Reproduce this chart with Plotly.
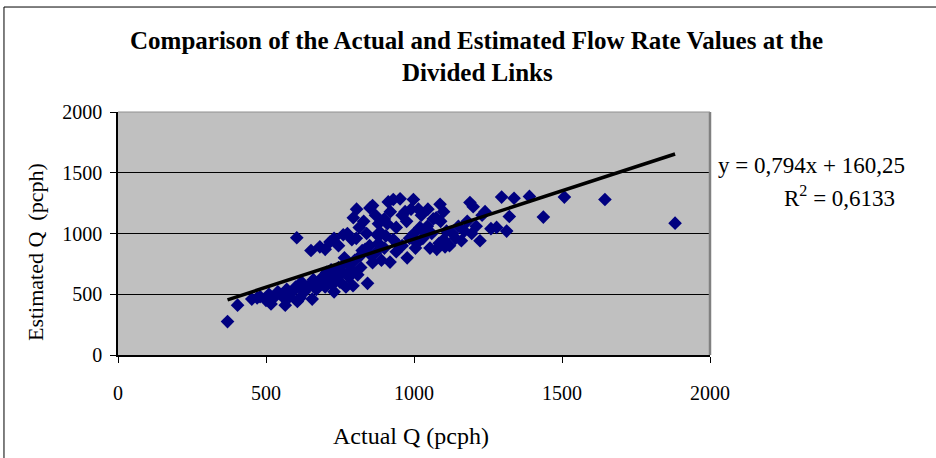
import plotly.graph_objects as go

# Actual Q (pcph)
actual_q = [
    370, 404, 452, 470, 480, 500, 510, 517, 530, 540, 555, 565, 570, 580, 590,
    600, 604, 606, 615, 620, 630, 640, 650, 652, 656, 660, 670, 680, 682, 690,
    700, 700, 705, 710, 716, 720, 725, 730, 730, 740, 745, 745, 750, 760, 761,
    770, 775, 775, 780, 790, 790, 794, 795, 800, 806, 810, 815, 820, 820, 830,
    835, 840, 843, 850, 851, 855, 860, 860, 870, 870, 880, 880, 890, 890, 900,
    900, 905, 913, 919, 920, 930, 930, 940, 940, 953, 960, 960, 975, 977, 985,
    990, 998, 1000, 1005, 1010, 1020, 1025, 1030, 1040, 1047, 1054, 1060, 1065,
    1077, 1085, 1088, 1090, 1100, 1100, 1110, 1120, 1130, 1140, 1150, 1160, 1170,
    1180, 1189, 1195, 1200, 1210, 1223, 1230, 1240, 1260, 1279, 1296, 1313, 1322,
    1338, 1390, 1437, 1508, 1645, 1882,
    560, 625, 685, 735, 765, 805, 825, 875, 910, 945, 970, 1015, 1045, 1075, 1105,
]

# Estimated Q (pcph)
estimated_q = [
    275, 410, 460, 470, 480, 450, 500, 420, 480, 520, 500, 410, 540, 480, 520,
    560, 965, 440, 470, 600, 520, 560, 580, 860, 460, 620, 540, 600, 890, 640,
    560, 870, 680, 620, 930, 700, 580, 520, 960, 650, 720, 900, 600, 680, 990,
    560, 750, 1000, 640, 700, 950, 570, 1130, 780, 1200, 660, 1050, 720, 820, 1100,
    870, 1000, 590, 900, 1210, 820, 760, 1230, 840, 1150, 920, 1080, 780, 1000, 880,
    1120, 980, 1260, 765, 1180, 950, 1280, 850, 1050, 1285, 900, 1150, 1100, 800, 960,
    1200, 1280, 1000, 880, 920, 1050, 1150, 960, 1000, 1200, 880, 1000, 1120,
    870, 920, 1240, 1100, 950, 1180, 1020, 900, 1000, 960, 1060, 940, 1020,
    1100, 1255, 1000, 1220, 1060, 940, 1150, 1180, 1040, 1050, 1300, 1020, 1140,
    1290, 1305, 1135, 1300, 1280, 1085,
    470, 530, 580, 620, 800, 960, 860, 990, 1080, 910, 1180, 1200, 1060, 1130, 890,
]

# Axis tick values
tick_values = [0, 500, 1000, 1500, 2000]

# Trendline coefficients as printed on the chart
slope = 0.794
intercept = 160.25

x_min, x_max = min(actual_q), max(actual_q)
trend_x = [x_min, x_max]
trend_y = [slope * v + intercept for v in trend_x]

fig = go.Figure()
fig.add_trace(go.Scatter(
    x=actual_q, y=estimated_q, mode="markers",
    marker=dict(symbol="diamond", size=10.5, color="#000080",
                line=dict(width=0)),
    showlegend=False, hoverinfo="x+y",
))
fig.add_trace(go.Scatter(
    x=trend_x, y=trend_y, mode="lines",
    line=dict(color="black", width=3.5),
    showlegend=False, hoverinfo="skip",
))

serif = "Liberation Serif, Times New Roman, serif"

fig.update_layout(
    width=936, height=458,
    margin=dict(l=118, r=226, t=112, b=103),
    paper_bgcolor="white",
    plot_bgcolor="#c0c0c0",
    font=dict(family=serif, size=18, color="black"),
    xaxis=dict(
        range=[0, 2000], tickvals=tick_values,
        showgrid=False, zeroline=False,
        showline=True, linecolor="black", linewidth=1.5,
        ticks="outside", ticklen=6, tickcolor="black", tickwidth=1,
        ticklabelstandoff=13,
        tickfont=dict(family=serif, size=20),
    ),
    yaxis=dict(
        range=[0, 2000], tickvals=tick_values,
        showgrid=True, gridcolor="black", gridwidth=1,
        zeroline=False,
        showline=True, linecolor="black", linewidth=1.5,
        ticks="outside", ticklen=6, tickcolor="black", tickwidth=1,
        ticklabelstandoff=4,
        tickfont=dict(family=serif, size=20),
    ),
    shapes=[
        # plot area gray border (right / top)
        dict(type="line", xref="paper", yref="paper", x0=1, x1=1, y0=0, y1=1,
             line=dict(color="#808080", width=2.5)),
        dict(type="line", xref="paper", yref="paper", x0=0, x1=1, y0=1, y1=1,
             line=dict(color="#909090", width=1)),
        # outer chart frame (top and left edges)
        dict(type="line", xref="paper", yref="paper",
             x0=-0.1926, x1=1.40, y0=1.432, y1=1.432,
             line=dict(color="black", width=1)),
        dict(type="line", xref="paper", yref="paper",
             x0=-0.1926, x1=-0.1926, y0=-0.45, y1=1.432,
             line=dict(color="black", width=1)),
    ],
    annotations=[
        dict(text="<b>Comparison of the Actual and Estimated Flow Rate Values at the</b>",
             xref="paper", yref="paper", x=(476 - 118) / 592, y=(355 - 40) / 243,
             xanchor="center", yanchor="middle", showarrow=False,
             font=dict(family=serif, size=25)),
        dict(text="<b>Divided Links</b>",
             xref="paper", yref="paper", x=(477 - 118) / 592, y=(355 - 73) / 243,
             xanchor="center", yanchor="middle", showarrow=False,
             font=dict(family=serif, size=25)),
        dict(text="Estimated Q  (pcph)", textangle=-90,
             xref="paper", yref="paper", x=(35 - 118) / 592, y=(355 - 252) / 243,
             xanchor="center", yanchor="middle", showarrow=False,
             font=dict(family=serif, size=22)),
        dict(text="Actual Q (pcph)",
             xref="paper", yref="paper", x=(411 - 118) / 592, y=(355 - 436) / 243,
             xanchor="center", yanchor="middle", showarrow=False,
             font=dict(family=serif, size=24)),
        dict(text="y = 0,794x + 160,25",
             xref="paper", yref="paper", x=(716 - 118) / 592, y=(355 - 165) / 243,
             xanchor="left", yanchor="middle", showarrow=False,
             font=dict(family=serif, size=23)),
        dict(text="R<sup>2</sup> = 0,6133",
             xref="paper", yref="paper", x=(839 - 118) / 592, y=(355 - 196) / 243,
             xanchor="center", yanchor="middle", showarrow=False,
             font=dict(family=serif, size=23)),
    ],
)

fig.write_html("out.html", config={"displayModeBar": False},
               post_script="document.body.style.margin='0';")
